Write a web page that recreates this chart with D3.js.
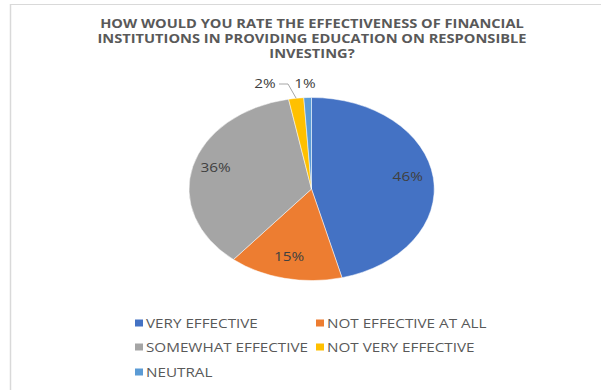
<!DOCTYPE html>
<html>
<head>
<meta charset="utf-8">
<script src="https://cdn.jsdelivr.net/npm/d3@7"></script>
<style>
  html, body { margin: 0; padding: 0; background: #fff; }
  svg { display: block; font-family: "Open Sans", "Liberation Sans", sans-serif; }
</style>
</head>
<body>
<svg id="chart" width="601" height="390"></svg>
<script>
const titleLines = [
  "HOW WOULD YOU RATE THE EFFECTIVENESS OF FINANCIAL",
  "INSTITUTIONS IN PROVIDING EDUCATION ON RESPONSIBLE",
  "INVESTING?"
];
const categories = ["VERY EFFECTIVE", "NOT EFFECTIVE AT ALL", "SOMEWHAT EFFECTIVE", "NOT VERY EFFECTIVE", "NEUTRAL"];
const values = [46, 15, 36, 2, 1];
const colors = ["#4472C4", "#ED7D31", "#A5A5A5", "#FFC000", "#5B9BD5"];

const svg = d3.select("#chart");
// the whole chart is drawn widened horizontally
const SX = 1.2;

// text placed at (x, y) and widened by SX
function wideText(parent, x, y, str, anchor) {
  return parent.append("text")
    .attr("transform", `translate(${x},${y}) scale(${SX},1)`)
    .attr("text-anchor", anchor || "start")
    .text(str);
}

// frame edges
svg.append("line").attr("x1", 10).attr("x2", 601).attr("y1", 4.5).attr("y2", 4.5)
  .attr("stroke", "#d9d9d9").attr("stroke-width", 1);
svg.append("line").attr("x1", 10.5).attr("x2", 10.5).attr("y1", 4).attr("y2", 390)
  .attr("stroke", "#d9d9d9").attr("stroke-width", 1.5);

// title
const tg = svg.append("g").attr("font-size", 12.2).attr("font-weight", 700).attr("fill", "#595959");
titleLines.forEach((t, i) => wideText(tg, 312, 28 + i * 15, t, "middle"));

// pie, drawn on a unit circle then stretched into an ellipse
const cx = 311.5, cy = 189, rx = 122.5, ry = 91.5;
const color = d3.scaleOrdinal().domain(categories).range(colors);
const pie = d3.pie().sort(null).value(d => d.v);
const data = categories.map((c, i) => ({ c, v: values[i] }));
const arcs = pie(data);
const arc = d3.arc().innerRadius(0).outerRadius(1);

const gPie = svg.append("g").attr("transform", `translate(${cx},${cy}) scale(${rx},${ry})`);
gPie.selectAll("path").data(arcs).join("path")
  .attr("d", arc)
  .attr("fill", d => color(d.data.c))
  .attr("stroke", "#fff").attr("stroke-width", 0.5).attr("vector-effect", "non-scaling-stroke");

// data labels
const total = d3.sum(values);
const pct = d => Math.round(d.data.v / total * 100) + "%";
const pt = (a, r) => [cx + Math.sin(a) * rx * r, cy - Math.cos(a) * ry * r];
const labelG = svg.append("g").attr("font-size", 12.8).attr("fill", "#404040");
arcs.forEach(d => {
  if (d.data.v >= 5) {
    const mid = (d.startAngle + d.endAngle) / 2;
    const [x, y] = pt(mid, 0.8);
    wideText(labelG, x - 1, y + 1, pct(d), "middle");
  }
});
// small slices: labels outside, above the top
const yellow = arcs[3], neutral = arcs[4];
{
  const mid = (yellow.startAngle + yellow.endAngle) / 2;
  const [ex, ey] = pt(mid, 1.0);
  wideText(labelG, 265, 88, pct(yellow), "middle");
  svg.append("polyline")
    .attr("points", `279,84 288,84 ${ex},${ey}`)
    .attr("fill", "none").attr("stroke", "#a6a6a6").attr("stroke-width", 1);
}
wideText(labelG, 305, 88, pct(neutral), "middle");

// legend
const legendPos = [[135, 323], [316, 323], [135, 347], [316, 347], [135, 372]];
const lg = svg.append("g").attr("font-size", 12.7).attr("fill", "#595959");
categories.forEach((c, i) => {
  const [x, y] = legendPos[i];
  lg.append("rect").attr("x", x).attr("y", y - 3.5).attr("width", 8).attr("height", 7).attr("fill", color(c));
  wideText(lg, x + 11, y + 4.5, c);
});
</script>
</body>
</html>
